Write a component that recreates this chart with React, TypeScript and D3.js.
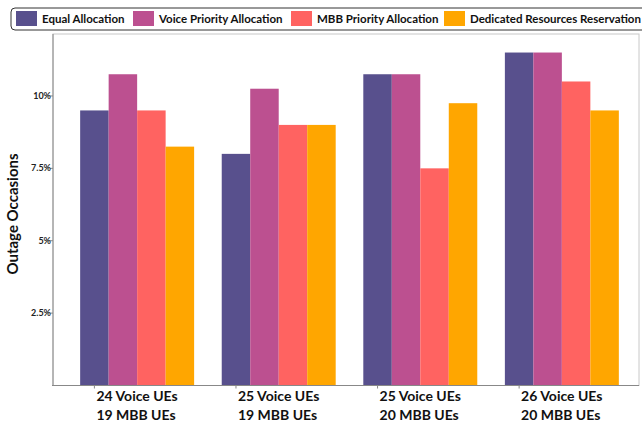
import { useEffect, useRef } from "react";
import * as d3 from "d3";

const groups = ["g1", "g2", "g3", "g4"];
const groupLine1 = ["24 Voice UEs", "25 Voice UEs", "25 Voice UEs", "26 Voice UEs"];
const groupLine2 = ["19 MBB UEs", "19 MBB UEs", "20 MBB UEs", "20 MBB UEs"];
const seriesNames = [
  "Equal Allocation",
  "Voice Priority Allocation",
  "MBB Priority Allocation",
  "Dedicated Resources Reservation",
];
const seriesColors = ["#58508d", "#bc5090", "#ff6361", "#ffa600"];
const equalAlloc = [9.5, 8.0, 10.75, 11.5];
const voicePrio = [10.75, 10.25, 10.75, 11.5];
const mbbPrio = [9.5, 9.0, 7.5, 10.5];
const dedicated = [8.25, 9.0, 9.75, 9.5];
const yTicks = [2.5, 5, 7.5, 10];
const yTickLabels = ["2.5%", "5%", "7.5%", "10%"];

const App = () => {
  const svgRef = useRef(null);

  useEffect(() => {
    if (!svgRef.current) return;
    d3.select(svgRef.current).selectAll("*").remove();

    const svg = d3.select(svgRef.current);
    const font = "Lato, 'Open Sans', sans-serif";
    const values = [equalAlloc, voicePrio, mbbPrio, dedicated];

    const left = 53;
    const right = 639;
    const top = 34;
    const bottom = 385.5;

    const y = d3.scaleLinear().domain([0, 12.14]).range([bottom, top]);
    const x0 = d3
      .scaleBand()
      .domain(groups)
      .range([66, 633])
      .paddingInner(0.195)
      .paddingOuter(0.1);
    const x1 = d3
      .scaleBand()
      .domain(seriesNames)
      .range([0, x0.bandwidth()]);

    // plot frame
    svg
      .append("rect")
      .attr("x", left)
      .attr("y", top)
      .attr("width", right - left)
      .attr("height", bottom - top)
      .attr("fill", "none")
      .attr("stroke", "#c8c8c8")
      .attr("stroke-width", 1);

    // bars
    seriesNames.forEach((s, si) => {
      svg
        .append("g")
        .selectAll("rect")
        .data(values[si])
        .join("rect")
        .attr("x", (_, i) => x0(groups[i]) + x1(s))
        .attr("y", (d) => y(d))
        .attr("width", x1.bandwidth())
        .attr("height", (d) => bottom - y(d))
        .attr("fill", seriesColors[si]);
    });

    // axes lines
    svg
      .append("line")
      .attr("x1", left)
      .attr("x2", left)
      .attr("y1", top)
      .attr("y2", bottom)
      .attr("stroke", "#888");
    svg
      .append("line")
      .attr("x1", left - 1)
      .attr("x2", right)
      .attr("y1", bottom)
      .attr("y2", bottom)
      .attr("stroke", "#888");

    // y ticks
    const yt = svg.append("g");
    yTicks.forEach((t, i) => {
      yt.append("line")
        .attr("x1", left - 3)
        .attr("x2", left)
        .attr("y1", y(t))
        .attr("y2", y(t))
        .attr("stroke", "#888");
      yt.append("text")
        .attr("x", left - 2)
        .attr("y", y(t))
        .attr("dy", "0.35em")
        .attr("text-anchor", "end")
        .attr("font-family", font)
        .attr("font-weight", "bold")
        .attr("font-size", 9)
        .attr("fill", "#222")
        .text(yTickLabels[i]);
    });

    // x ticks and labels (ticks sit a little inside each group)
    const xt = svg.append("g");
    groups.forEach((g, i) => {
      const px = x0(g) + x1.bandwidth() / 2;
      xt.append("line")
        .attr("x1", px)
        .attr("x2", px)
        .attr("y1", bottom)
        .attr("y2", bottom + 3)
        .attr("stroke", "#888");
      const txt = xt
        .append("text")
        .attr("font-family", font)
        .attr("font-weight", "bold")
        .attr("font-size", 14)
        .attr("fill", "#111");
      txt.append("tspan").attr("x", px + 2).attr("y", 401).text(groupLine1[i]);
      txt.append("tspan").attr("x", px + 2).attr("y", 420).text(groupLine2[i]);
    });

    // y title
    svg
      .append("text")
      .attr("transform", `translate(18, 214) rotate(-90)`)
      .attr("text-anchor", "middle")
      .attr("font-family", font)
      .attr("font-weight", "bold")
      .attr("font-size", 15)
      .attr("fill", "#111")
      .text("Outage Occasions");

    // legend
    svg
      .append("rect")
      .attr("x", 11)
      .attr("y", 8)
      .attr("width", 660)
      .attr("height", 22)
      .attr("rx", 4)
      .attr("fill", "#fff")
      .attr("stroke", "#333")
      .attr("stroke-width", 1);
    const legX = [16, 133, 291, 444];
    seriesNames.forEach((s, i) => {
      svg
        .append("rect")
        .attr("x", legX[i])
        .attr("y", 11)
        .attr("width", 21)
        .attr("height", 15)
        .attr("fill", seriesColors[i]);
      svg
        .append("text")
        .attr("x", legX[i] + 26)
        .attr("y", 18.5)
        .attr("dy", "0.35em")
        .attr("font-family", font)
        .attr("font-weight", "bold")
        .attr("font-size", 11.5)
        .attr("fill", "#111")
        .text(s);
    });
  }, []);

  return (
    <svg
      ref={svgRef}
      width={642}
      height={428}
      style={{ position: "absolute", left: 0, top: 0, background: "#fff" }}
    />
  );
};

export default App;
